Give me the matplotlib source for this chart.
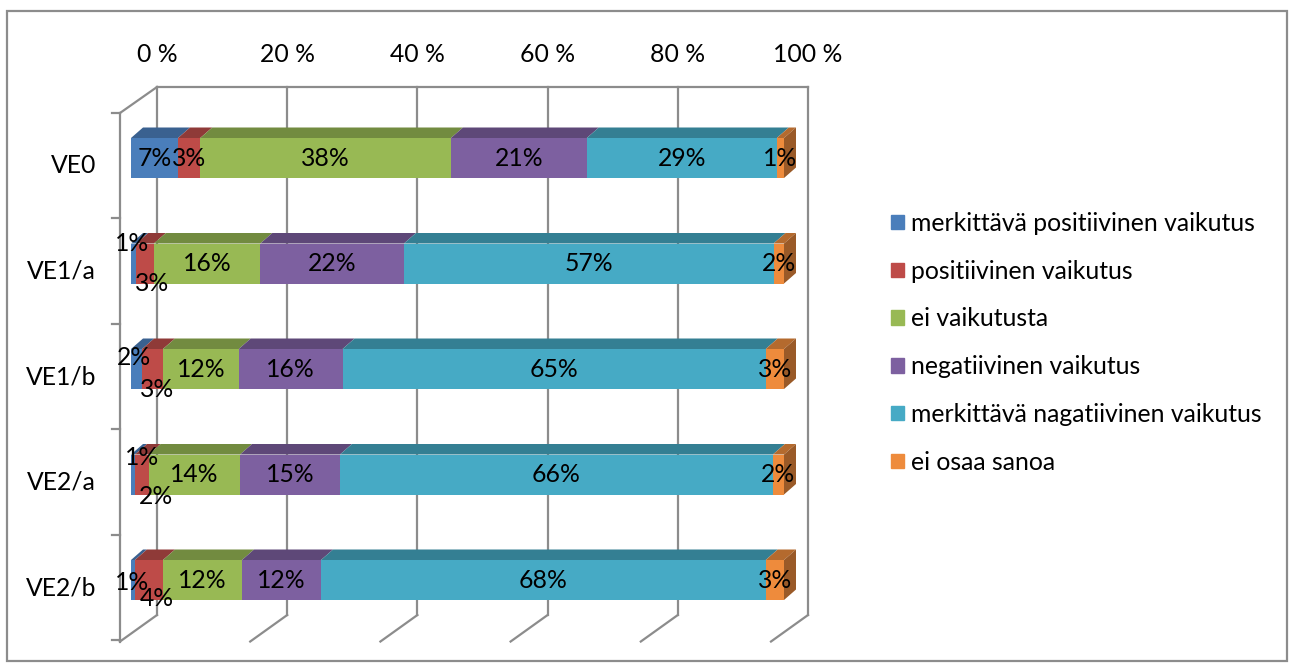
import matplotlib.pyplot as plt
from matplotlib.patches import Polygon, Patch, Rectangle

categories = ['VE0', 'VE1/a', 'VE1/b', 'VE2/a', 'VE2/b']
series = ['merkittävä positiivinen vaikutus', 'positiivinen vaikutus', 'ei vaikutusta',
          'negatiivinen vaikutus', 'merkittävä nagatiivinen vaikutus', 'ei osaa sanoa']
# percentage shares per category, one list per series
merk_pos = [7.2, 0.8, 1.7, 0.6, 0.6]
pos = [3.4, 2.7, 3.2, 2.1, 4.3]
ei_vaik = [38.4, 16.3, 11.6, 14.0, 12.1]
neg = [20.8, 22.0, 15.9, 15.3, 12.1]
merk_neg = [29.1, 56.6, 64.8, 66.3, 68.1]
ei_osaa = [1.1, 1.6, 2.8, 1.7, 2.8]
values = [merk_pos, pos, ei_vaik, neg, merk_neg, ei_osaa]
xticks = [0, 20, 40, 60, 80, 100]

front = ['#4A7EBB', '#BE4B48', '#98B954', '#7D60A0', '#46AAC5', '#EE8B3C']
top = ['#3A6190', '#8F3A38', '#728B40', '#5E4878', '#347F93', '#B46A2E']
side = '#9A5A28'

# pixel geometry of the reference (front plane of the bars)
W, H = 1293, 669
X0, SX = 131, 6.53     # px of 0 %, px per percent
Y0, SY = 158, 105.5    # px of first bar centre, px per row


def px(x, y):
    return (x - X0) / SX, (y - Y0) / SY


fig = plt.figure(figsize=(W / 100, H / 100), dpi=100)
ax = fig.add_axes([0, 0, 1, 1])
ax.set_xlim(px(0, 0)[0], px(W, 0)[0])
ax.set_ylim(px(0, H)[1], px(0, 0)[1])
ax.axis('off')
plt.rcParams['font.family'] = ['Lato', 'DejaVu Sans']
fs = 17.8

grid = '#8C8C8C'
# depth offsets in data units
bdx, bdy = 12 / SX, -10.5 / SY          # bar depth
wbx, wby = 26 / SX, -18.3 / SY          # back wall relative to bar plane
wfx, wfy = -11 / SX, 7.7 / SY           # wall front relative to bar plane
wall_top, wall_bot = -0.5 - 0.173, 4.5 - 0.168

# back wall gridlines + floor diagonals
for t in xticks:
    xb = t * 651 / 653 + wbx
    ax.plot([xb, xb], [wall_top, wall_bot], color=grid, lw=1.6, zorder=1)
    ax.plot([xb, xb - 37 / SX], [wall_bot, wall_bot + 26.5 / SY], color=grid, lw=1.6, zorder=1)
    ax.text(xb, px(0, 55)[1], f'{t} %', ha='center', va='center', fontsize=fs)
ax.plot([wbx, 100 * 651 / 653 + wbx], [wall_top, wall_top], color=grid, lw=1.6, zorder=1)

# left wall
ax.plot([wbx, wfx], [wall_top, wall_top + 26 / SY], color=grid, lw=1.6, zorder=1)
ax.plot([wfx, wfx], [wall_top + 26 / SY, wall_bot + 26.5 / SY], color=grid, lw=1.6, zorder=1)
for k in range(len(categories) + 1):
    yb = k - 0.5 + wfy
    ax.plot([wfx - 8 / SX, wfx], [yb, yb], color=grid, lw=1.6, zorder=1)
for i, c in enumerate(categories):
    ax.text(px(96, 0)[0], i + wfy, c, ha='right', va='center', fontsize=fs)

# bars
bh = 40 / SY
label_shift = {(1, 0): (-2, -20), (1, 1): (7, 20), (2, 0): (-3, -12), (2, 1): (5, 20),
               (3, 0): (9, -17), (3, 1): (14, 22), (4, 0): (-1, 3), (4, 1): (8, 18)}
for i in range(len(categories)):
    left = 0
    yt = i - bh / 2
    for s in range(len(series)):
        v = values[s][i]
        ax.barh(i, v, left=left, height=bh, color=front[s], edgecolor='none', zorder=3)
        ax.add_patch(Polygon([(left, yt), (left + v, yt), (left + v + bdx, yt + bdy),
                              (left + bdx, yt + bdy)], closed=True, color=top[s], lw=0, zorder=2))
        ox, oy = label_shift.get((i, s), (0, 0))
        ax.text(left + v / 2 + ox / SX, i + oy / SY, f'{round(v)}%', ha='center', va='center',
                fontsize=fs, zorder=5)
        left += v
    ax.add_patch(Polygon([(left, yt), (left + bdx, yt + bdy), (left + bdx, yt + bh + bdy),
                          (left, yt + bh)], closed=True, color=side, lw=0, zorder=2))

handles = [Patch(color=c, label=l) for c, l in zip(front, series)]
fig.legend(handles=handles, loc='upper left', bbox_to_anchor=(891 / W, 1 - 212 / H),
           frameon=False, fontsize=fs, handlelength=0.52, handleheight=0.52,
           handletextpad=0.3, labelspacing=1.0, borderpad=0, borderaxespad=0)

fig.patches.append(Rectangle((7 / W, 8 / H), 1280 / W, 650 / H, transform=fig.transFigure,
                             fill=False, edgecolor='#8C8C8C', lw=1.6))
fig.savefig('out.png', dpi=100)
